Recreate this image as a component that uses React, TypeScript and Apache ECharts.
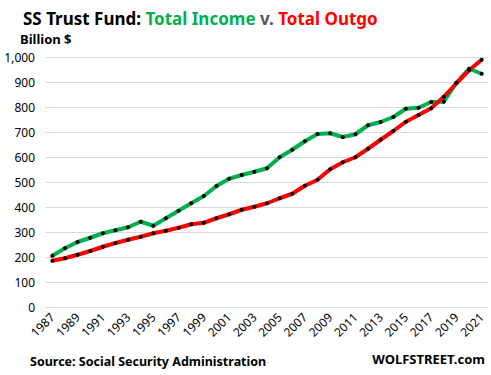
import React, { useEffect, useRef } from "react";
import * as echarts from "echarts";

const years = [
  "1987", "1988", "1989", "1990", "1991", "1992", "1993", "1994", "1995", "1996",
  "1997", "1998", "1999", "2000", "2001", "2002", "2003", "2004", "2005", "2006",
  "2007", "2008", "2009", "2010", "2011", "2012", "2013", "2014", "2015", "2016",
  "2017", "2018", "2019", "2020", "2021",
];

const totalIncome = [
  205, 235, 260, 277, 295, 307, 319, 341, 325, 355,
  385, 415, 444, 484, 513, 528, 541, 555, 599, 629,
  663, 692, 695, 680, 691, 727, 740, 760, 793, 797,
  820, 821, 897, 953, 933,
];

const totalOutgo = [
  185, 195, 209, 224, 241, 256, 269, 281, 295, 305,
  317, 331, 337, 355, 371, 389, 401, 415, 435, 453,
  485, 509, 551, 579, 599, 633, 669, 704, 741, 768,
  795, 841, 895, 947, 989,
];

const FONT = "'Noto Sans', 'Open Sans', sans-serif";

export default function App() {
  const ref = useRef<HTMLDivElement>(null);
  useEffect(() => {
    document.body.style.margin = "0";
    const chart = echarts.init(ref.current!, null, { renderer: "svg" });
    chart.setOption({
      animation: false,
      backgroundColor: "#ffffff",
      title: {
        text: "{b|SS Trust Fund: }{g|Total Income }{v|v. }{r|Total Outgo}",
        left: 18,
        top: 5,
        textStyle: {
          rich: {
            b: { fontFamily: FONT, fontWeight: "bold", fontSize: 17, color: "#000000" },
            g: { fontFamily: FONT, fontWeight: "bold", fontSize: 17, color: "#00B050" },
            v: { fontFamily: FONT, fontWeight: "bold", fontSize: 17, color: "#595959" },
            r: { fontFamily: FONT, fontWeight: "bold", fontSize: 17, color: "#FF0000" },
          },
        },
      },
      graphic: [
        {
          type: "text",
          left: 20,
          top: 32,
          style: { text: "Billion $", font: `bold 13px ${FONT}`, fill: "#000000" },
        },
        {
          type: "text",
          left: 30,
          top: 355,
          style: {
            text: "Source: Social Security Administration",
            font: `bold 12.5px ${FONT}`,
            fill: "#000000",
          },
        },
        {
          type: "text",
          right: 6,
          top: 352,
          style: { text: "WOLFSTREET.com", font: `bold 13px ${FONT}`, fill: "#000000" },
        },
      ],
      grid: { left: 46, right: 3, top: 57, bottom: 68, containLabel: false },
      xAxis: {
        type: "category",
        data: years,
        boundaryGap: true,
        axisLine: { show: false },
        axisTick: { show: false },
        axisLabel: {
          interval: 1,
          rotate: 45,
          fontFamily: FONT,
          fontSize: 12,
          color: "#000000",
          margin: 8,
        },
      },
      yAxis: {
        type: "value",
        min: 0,
        max: 1000,
        interval: 100,
        axisLine: { show: false },
        axisTick: { show: false },
        splitLine: { lineStyle: { color: "#d9d9d9", width: 1 } },
        axisLabel: {
          fontFamily: FONT,
          fontSize: 12,
          color: "#000000",
          margin: 11,
          formatter: (v: number) => v.toLocaleString("en-US"),
        },
      },
      series: [
        {
          name: "Total Income",
          type: "line",
          data: totalIncome,
          symbol: "circle",
          symbolSize: 4,
          showSymbol: true,
          itemStyle: { color: "#000000" },
          lineStyle: { color: "#00B050", width: 4 },
        },
        {
          name: "Total Outgo",
          type: "line",
          data: totalOutgo,
          symbol: "circle",
          symbolSize: 4,
          showSymbol: true,
          itemStyle: { color: "#000000" },
          lineStyle: { color: "#FF0000", width: 4 },
        },
      ],
    });
    return () => chart.dispose();
  }, []);
  return <div ref={ref} style={{ width: 491, height: 375 }} />;
}
